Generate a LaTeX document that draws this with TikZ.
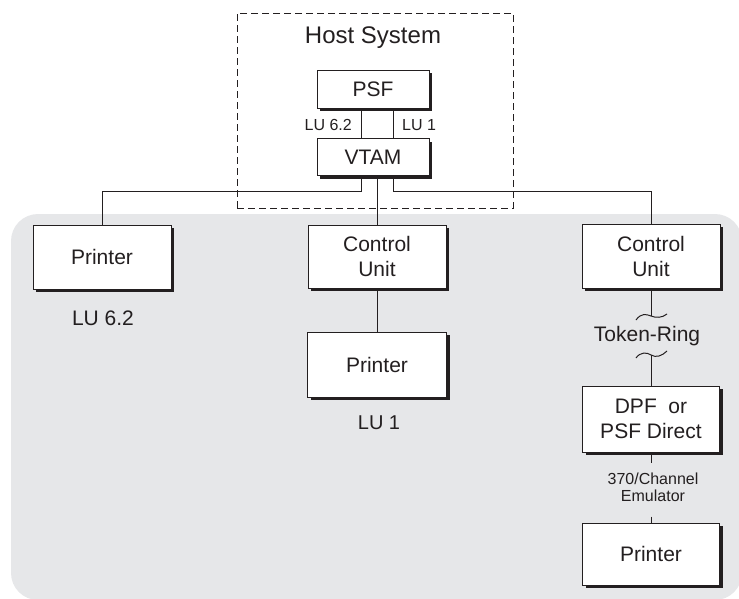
\documentclass[tikz,border=0pt]{standalone}
\usepackage{fontspec}
\setmainfont{Liberation Sans}
\usetikzlibrary{shadows}
\definecolor{bggray}{RGB}{230,231,233}
\definecolor{ink}{RGB}{35,31,32}
\begin{document}
\begin{tikzpicture}[x=1pt,y=-1pt,
  box/.style={draw=ink, line width=0.8pt, fill=white, minimum width=138pt, minimum height=64pt,
    align=center, font=\fontsize{21}{25}\selectfont, text=ink, inner sep=0pt,
    drop shadow={shadow xshift=3pt, shadow yshift=-3pt, fill=ink, opacity=1}},
  hostbox/.style={draw=ink, line width=0.9pt, dash pattern=on 7pt off 4pt},
  wire/.style={draw=ink, line width=1pt},
  lbl/.style={font=\fontsize{21}{25}\selectfont, text=ink, inner sep=0pt},
  small/.style={font=\fontsize{16}{17}\selectfont, text=ink, inner sep=0pt, align=center}]
\useasboundingbox (0,0) rectangle (739,598);
\fill[bggray, rounded corners=27pt] (11,214) rectangle (742,600);

% host system
\node[hostbox, minimum width=276pt, minimum height=195pt] (host) at (375,110.5) {};
\node[lbl, font=\fontsize{24}{28}\selectfont] (hosttitle) at (373,38) {Host System};
\node[box, minimum width=112pt, minimum height=38pt] (psf) at (373,89) {PSF};
\node[box, minimum width=112pt, minimum height=37pt] (vtam) at (373,157) {VTAM};
\draw[wire] ([xshift=-12pt]psf.south) -- ([xshift=-12pt]vtam.north);
\draw[wire] ([xshift=20pt]psf.south) -- ([xshift=20pt]vtam.north);
\node[small, anchor=east] (l62) at (352,125) {LU 6.2};
\node[small, anchor=west] (l1) at (402,125) {LU 1};

% left column
\node[box] (p1) at (102,257) {Printer};
\node[lbl] (lu62) at (103,318) {LU 6.2};

% middle column
\node[box, minimum height=63pt] (cu1) at (377,256.5) {Control\\Unit};
\node[box, minimum width=139pt, minimum height=65pt] (p2) at (377,364.5) {Printer};
\node[lbl, font=\fontsize{20}{24}\selectfont] (lu1) at (379,423) {LU 1};

% right column
\node[box] (cu2) at (651,256) {Control\\Unit};
\node[lbl] (token) at (647,336) {Token-Ring};
\node[box, minimum width=137pt, minimum height=66pt] (dpf) at (651,419) {DPF~~or\\PSF Direct};
\node[small] (emu) at (653,487.5) {370/Channel\\Emulator};
\node[box, minimum width=137pt, minimum height=62pt] (p3) at (651,554) {Printer};
\coordinate (sq1) at (651,316);
\coordinate (sq2) at (651,355);

% connectors
\draw[wire] ([xshift=-12pt]vtam.south) |- ([yshift=33pt]p1.north) -- (p1.north);
\draw[wire] ([xshift=4pt]vtam.south) -- (cu1.north);
\draw[wire] ([xshift=20pt]vtam.south) |- ([yshift=32pt]cu2.north) -- (cu2.north);
\draw[wire] (cu1.south) -- (p2.north);
\draw[wire] (cu2.south) -- (sq1);
\draw[wire] ([shift={(-15,4)}]sq1) .. controls ([shift={(-10,-3)}]sq1) and ([shift={(-5,-2)}]sq1) .. (sq1)
  .. controls ([shift={(5,2)}]sq1) and ([shift={(11,2)}]sq1) .. ([shift={(16,-2)}]sq1);
\draw[wire] ([shift={(-15,3)}]sq2) .. controls ([shift={(-11,-3)}]sq2) and ([shift={(-4,-3)}]sq2) .. (sq2)
  .. controls ([shift={(5,3)}]sq2) and ([shift={(11,1)}]sq2) .. ([shift={(16,-4)}]sq2);
\draw[wire] (sq2) -- (dpf.north);
\draw[wire] (dpf.south) -- ([yshift=-11pt]dpf.south);
\draw[wire] ([yshift=6pt]p3.north) -- (p3.north);
\end{tikzpicture}
\end{document}
